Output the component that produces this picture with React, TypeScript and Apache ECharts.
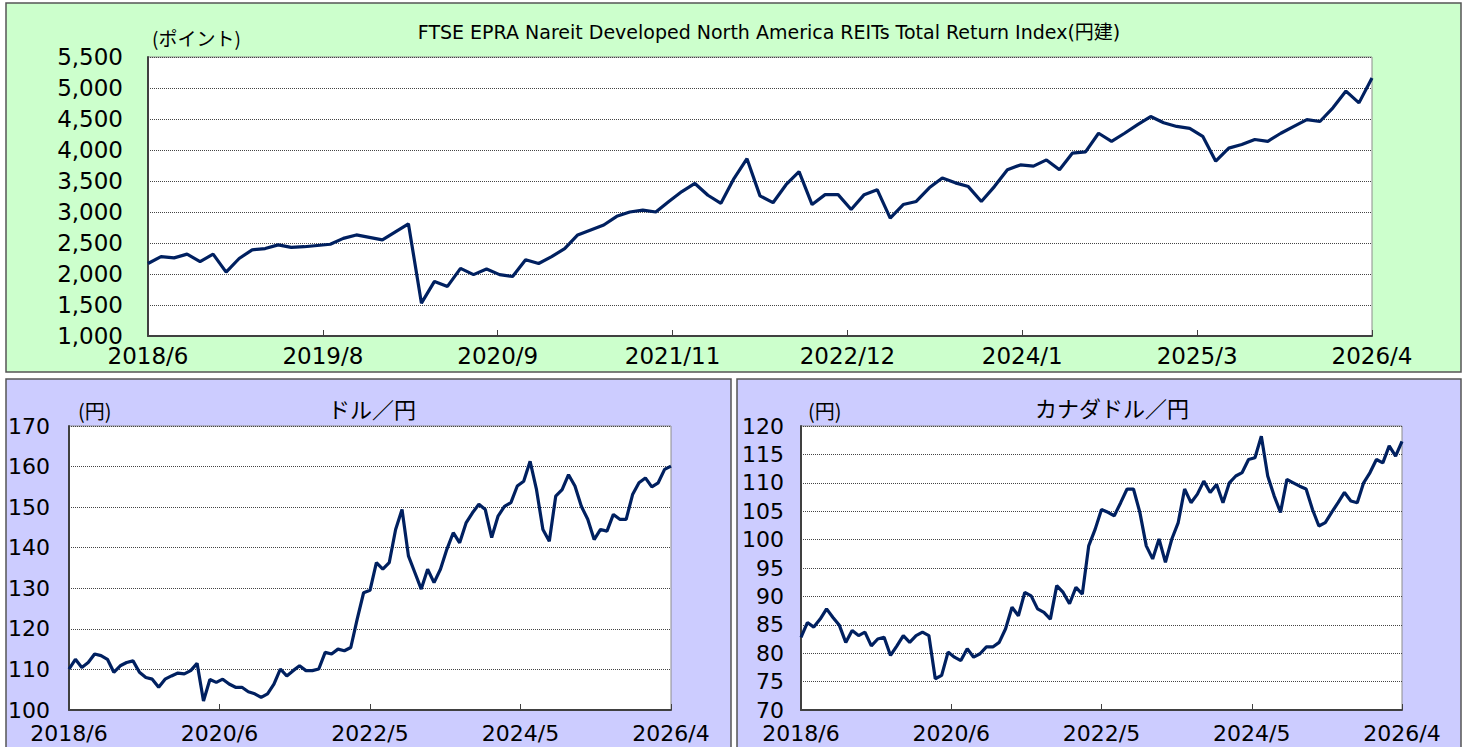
import React, { useEffect, useRef } from "react";
import * as echarts from "echarts";

// Monthly readings, 2018/6 .. 2026/4 (95 points)
const reitIndex: number[] = [
  2170, 2280, 2260, 2320, 2200, 2320, 2030, 2250, 2390, 2410,
  2470, 2430, 2440, 2460, 2480, 2575, 2630, 2590, 2550, 2680,
  2810, 1530, 1880, 1800, 2090, 1990, 2080, 1990, 1960, 2230,
  2170, 2280, 2410, 2630, 2710, 2790, 2930, 3000, 3030, 3000,
  3170, 3330, 3460, 3270, 3140, 3540, 3860, 3260, 3150, 3440,
  3650, 3120, 3280, 3280, 3040, 3280, 3360, 2900, 3120, 3170,
  3390, 3550, 3470, 3410, 3170, 3410, 3680, 3760, 3740, 3840,
  3680, 3950, 3970, 4270, 4140, 4270, 4410, 4540, 4440, 4380,
  4350, 4220, 3820, 4030, 4090, 4170, 4140, 4270, 4380, 4490,
  4460, 4680, 4950, 4760, 5160,
];

const usdJpy: number[] = [
  110.1, 112.5, 110.5, 111.7, 113.8, 113.4, 112.5, 109.3, 110.9, 111.7,
  112.1, 109.3, 108.0, 107.6, 105.6, 107.6, 108.4, 109.1, 108.9, 109.7,
  111.5, 102.2, 107.5, 106.8, 107.6, 106.4, 105.6, 105.6, 104.5, 104.0,
  103.1, 104.0, 106.4, 110.1, 108.4, 109.7, 110.9, 109.7, 109.7, 110.1,
  114.2, 113.8, 115.0, 114.6, 115.4, 122.4, 128.9, 129.5, 136.3, 134.7,
  136.3, 144.5, 149.4, 138.0, 133.9, 129.8, 134.7, 131.4, 134.7, 139.6,
  143.7, 141.2, 146.1, 148.6, 150.7, 149.4, 142.5, 147.8, 150.2, 151.1,
  155.2, 156.4, 161.3, 154.3, 144.5, 141.6, 152.7, 154.3, 158.0, 155.2,
  150.2, 147.0, 142.0, 144.5, 144.1, 148.2, 147.0, 147.0, 153.1, 156.0,
  157.2, 155.0, 156.0, 159.3, 160.1,
];

const cadJpy: number[] = [
  82.8, 85.4, 84.6, 86.0, 87.8, 86.3, 84.9, 81.9, 84.0, 83.1,
  83.7, 81.3, 82.5, 82.8, 79.6, 81.3, 83.1, 81.9, 83.1, 83.7,
  83.1, 75.5, 76.1, 80.2, 79.3, 78.7, 80.8, 79.3, 79.9, 81.1,
  81.1, 81.9, 84.3, 88.1, 86.6, 90.7, 90.1, 87.8, 87.2, 86.0,
  91.9, 90.7, 88.7, 91.6, 90.4, 98.9, 101.8, 105.3, 104.8, 104.2,
  106.5, 108.9, 108.9, 104.8, 98.9, 96.6, 100.1, 96.0, 100.1, 103.0,
  108.9, 106.5, 108.0, 110.3, 108.3, 109.7, 106.5, 110.0, 111.2, 111.8,
  114.1, 114.4, 118.2, 111.2, 107.7, 104.8, 110.6, 110.0, 109.4, 108.9,
  105.3, 102.4, 103.0, 104.8, 106.5, 108.3, 106.8, 106.5, 110.0, 111.8,
  114.1, 113.5, 116.5, 114.7, 117.3,
];

const topTickLabels: string[] = ["2018/6", "2019/8", "2020/9", "2021/11", "2022/12", "2024/1", "2025/3", "2026/4"];
const fxTickLabels: string[] = ["2018/6", "2020/6", "2022/5", "2024/5", "2026/4"];

const LINE_COLOR = "#002060";
const NUM_FONT = "DejaVu Sans";
const JP_FONT = "'Noto Sans CJK JP', 'Noto Sans', sans-serif";
const TITLE_FONT = "'DejaVu Sans', 'Noto Sans CJK JP', sans-serif";

export default function App() {
  const ref = useRef<HTMLDivElement>(null);

  useEffect(() => {
    if (!ref.current) return;
    const chart = echarts.init(ref.current, null, { renderer: "svg" });

    const topStep = 94; // x-units per tick (month index * 7)
    const fxStep = 47; // x-units per tick (month index * 2)

    const topFont = { color: "#000", fontFamily: NUM_FONT, fontSize: 23 };
    const fxFont = { color: "#000", fontFamily: NUM_FONT, fontSize: 22 };

    const xAxisCommon = {
      type: "value" as const,
      axisLine: { show: true, lineStyle: { color: "#404040", width: 2 } },
      axisTick: { show: true, inside: true, length: 6, lineStyle: { color: "#404040", width: 1 } },
      splitLine: { show: false },
    };
    const yAxisCommon = {
      type: "value" as const,
      axisLine: { show: true, lineStyle: { color: "#404040", width: 2 } },
      axisTick: { show: false },
      splitLine: { show: true, lineStyle: { color: "#444", type: "dotted" as const, width: 1 } },
    };

    const gridCommon = {
      show: true,
      backgroundColor: "#ffffff",
      borderColor: "#8c8c8c",
      borderWidth: 1,
      containLabel: false,
    };

    const txt = (x: number, y: number, text: string, font: string, align: string) => ({
      type: "text",
      z: 10,
      x,
      y,
      style: { text, font, fill: "#000", align, verticalAlign: "middle", textAlign: align, textVerticalAlign: "middle" },
    });

    chart.setOption({
      animation: false,
      graphic: [
        { type: "rect", z: -10, shape: { x: 6, y: 3, width: 1455, height: 369 }, style: { fill: "#ccffcc", stroke: "#555555", lineWidth: 1.5 } },
        { type: "rect", z: -10, shape: { x: 6, y: 379, width: 725, height: 380 }, style: { fill: "#ccccff", stroke: "#555555", lineWidth: 1.5 } },
        { type: "rect", z: -10, shape: { x: 737, y: 379, width: 724, height: 380 }, style: { fill: "#ccccff", stroke: "#555555", lineWidth: 1.5 } },
        txt(769, 32, "FTSE EPRA Nareit Developed North America REITs Total Return Index(円建)", `19px ${TITLE_FONT}`, "center"),
        txt(152, 37, "(ポイント)", `19px ${JP_FONT}`, "left"),
        txt(372, 408, "ドル／円", `22px ${JP_FONT}`, "center"),
        txt(78, 410, "(円)", `20px ${JP_FONT}`, "left"),
        txt(1112, 407, "カナダドル／円", `22px ${JP_FONT}`, "center"),
        txt(808, 410, "(円)", `20px ${JP_FONT}`, "left"),
      ],
      grid: [
        { ...gridCommon, left: 148, top: 57, width: 1224, height: 279 },
        { ...gridCommon, left: 69, top: 426, width: 602, height: 284 },
        { ...gridCommon, left: 801, top: 426, width: 601, height: 284 },
      ],
      xAxis: [
        {
          ...xAxisCommon,
          gridIndex: 0,
          min: 0,
          max: topStep * 7,
          interval: topStep,
          axisLabel: { ...topFont, showMinLabel: true, showMaxLabel: true, margin: 8, formatter: (v: number) => topTickLabels[Math.round(v / topStep)] ?? "" },
        },
        {
          ...xAxisCommon,
          gridIndex: 1,
          min: 0,
          max: fxStep * 4,
          interval: fxStep,
          axisLabel: { ...fxFont, showMinLabel: true, showMaxLabel: true, margin: 12, formatter: (v: number) => fxTickLabels[Math.round(v / fxStep)] ?? "" },
        },
        {
          ...xAxisCommon,
          gridIndex: 2,
          min: 0,
          max: fxStep * 4,
          interval: fxStep,
          axisLabel: { ...fxFont, showMinLabel: true, showMaxLabel: true, margin: 12, formatter: (v: number) => fxTickLabels[Math.round(v / fxStep)] ?? "" },
        },
      ],
      yAxis: [
        {
          ...yAxisCommon,
          gridIndex: 0,
          min: 1000,
          max: 5500,
          interval: 500,
          axisLabel: { ...topFont, margin: 25, formatter: (v: number) => v.toLocaleString("en-US") },
        },
        {
          ...yAxisCommon,
          gridIndex: 1,
          min: 100,
          max: 170,
          interval: 10,
          axisLabel: { ...fxFont, margin: 19 },
        },
        {
          ...yAxisCommon,
          gridIndex: 2,
          min: 70,
          max: 120,
          interval: 5,
          axisLabel: { ...fxFont, margin: 17 },
        },
      ],
      series: [
        {
          type: "line",
          xAxisIndex: 0,
          yAxisIndex: 0,
          data: reitIndex.map((v, i) => [i * 7, v]),
          symbol: "none",
          lineStyle: { color: LINE_COLOR, width: 3.2 },
        },
        {
          type: "line",
          xAxisIndex: 1,
          yAxisIndex: 1,
          data: usdJpy.map((v, i) => [i * 2, v]),
          symbol: "none",
          lineStyle: { color: LINE_COLOR, width: 3.2 },
        },
        {
          type: "line",
          xAxisIndex: 2,
          yAxisIndex: 2,
          data: cadJpy.map((v, i) => [i * 2, v]),
          symbol: "none",
          lineStyle: { color: LINE_COLOR, width: 3.2 },
        },
      ],
    });

    return () => chart.dispose();
  }, []);

  return <div ref={ref} style={{ position: "absolute", left: 0, top: 0, width: 1469, height: 747 }} />;
}
